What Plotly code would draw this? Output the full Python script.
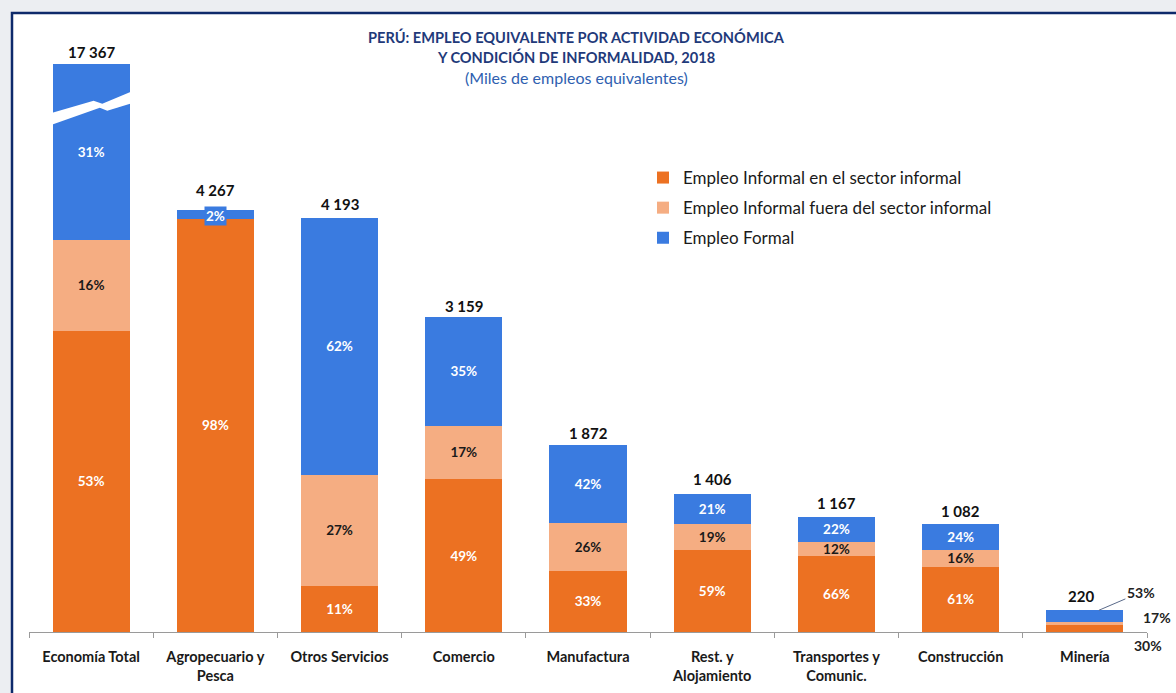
import plotly.graph_objects as go

# ---------------- data ----------------
categories = ["Economía Total", "Agropecuario y<br>Pesca", "Otros Servicios", "Comercio",
              "Manufactura", "Rest. y<br>Alojamiento", "Transportes y<br>Comunic.",
              "Construcción", "Minería"]
totals = [17367, 4267, 4193, 3159, 1872, 1406, 1167, 1082, 220]
pct_informal_sector = [53, 98, 11, 49, 33, 59, 66, 61, 30]
pct_informal_fuera = [16, 0, 27, 17, 26, 19, 12, 16, 17]
pct_formal = [31, 2, 62, 35, 42, 21, 22, 24, 53]
series_names = ["Empleo Informal en el sector informal",
                "Empleo Informal fuera del sector informal",
                "Empleo Formal"]

# first bar is drawn with a broken (compressed) scale
display_scale = [0.331, 1, 1, 1, 1, 1, 1, 1, 1]

# ---------------- style ----------------
C_ORANGE = "#EC7122"
C_PEACH = "#F5AD82"
C_BLUE = "#3A7BE0"
NAVY = "#1F3A7A"
FONT = "Lato"
Y_MAX = 6000
PLOT_TOP, PLOT_BOTTOM = 39, 632
PLOT_H = PLOT_BOTTOM - PLOT_TOP
W, H = 1176, 693


def fmt(v):
    return f"{v:,}".replace(",", " ")


def fmt_pct(p):
    return f"{p}%"


series = [pct_informal_sector, pct_informal_fuera, pct_formal]
colors = [C_ORANGE, C_PEACH, C_BLUE]
text_colors = ["white", "#1a1a1a", "white"]

fig = go.Figure()
n = len(categories)
for si, (pcts, name, col, tcol) in enumerate(zip(series, series_names, colors, text_colors)):
    ys = [totals[i] * pcts[i] / 100 * display_scale[i] for i in range(n)]
    real = [totals[i] * pcts[i] / 100 for i in range(n)]
    texts = []
    for i in range(n):
        if pcts[i] == 0 or categories[i] == "Minería" or (si == 2 and i == 1):
            texts.append("")
        else:
            texts.append(fmt_pct(pcts[i]))
    fig.add_trace(go.Bar(
        x=list(range(n)), y=ys, name=name, marker_color=col, marker_line_width=0,
        text=texts, textposition="inside", insidetextanchor="middle", textangle=0,
        textfont=dict(family=FONT, size=13.5, color=tcol, weight="bold"),
        customdata=real, legendgroup=f"g{si}",
        hovertemplate="%{customdata:,.0f}<extra>" + name + "</extra>",
    ))

annotations = []
# totals above the bars
for i in range(n):
    annotations.append(dict(x=i, y=totals[i] * display_scale[i], text=f"<b>{fmt(totals[i])}</b>",
                            showarrow=False, yanchor="bottom",
                            yshift=1 if i == 0 else (9 if i == 1 else 3),
                            xshift=-4 if categories[i] == "Minería" else 0,
                            font=dict(family=FONT, size=15, color="#111")))
# "2%" label on Agropecuario formal segment
agro = 1
annotations.append(dict(x=agro, y=totals[agro] * (pct_informal_sector[agro] + pct_formal[agro] / 2) / 100,
                        text=f"<b>{fmt_pct(pct_formal[agro])}</b>", showarrow=False,
                        bgcolor=C_BLUE, borderpad=1, yshift=-1,
                        font=dict(family=FONT, size=13.5, color="white")))
# Minería labels outside
mi = categories.index("Minería")
annotations.append(dict(x=mi, y=totals[mi], xshift=14, text=f"<b>{fmt_pct(pct_formal[mi])}</b>",
                        showarrow=True, arrowhead=0, arrowwidth=1, arrowcolor="#5a6a8a",
                        ax=42, ay=-18, font=dict(family=FONT, size=14, color="#222")))
annotations.append(dict(x=mi, y=0, xshift=72, yshift=15, text=f"<b>{fmt_pct(pct_informal_fuera[mi])}</b>",
                        showarrow=False, font=dict(family=FONT, size=14, color="#222")))
annotations.append(dict(x=mi, y=0, xshift=63, yshift=-13, text=f"<b>{fmt_pct(pct_informal_sector[mi])}</b>",
                        showarrow=False, font=dict(family=FONT, size=14, color="#222")))

# title
TX = (576 - 29) / 1118
annotations += [
    dict(xref="paper", yref="paper", x=TX, y=(PLOT_BOTTOM - 37) / PLOT_H, yanchor="middle",
         text="<b>PERÚ: EMPLEO EQUIVALENTE POR ACTIVIDAD ECONÓMICA</b>", showarrow=False,
         font=dict(family=FONT, size=14.6, color=NAVY)),
    dict(xref="paper", yref="paper", x=TX, y=(PLOT_BOTTOM - 57) / PLOT_H, yanchor="middle",
         text="<b>Y CONDICIÓN DE INFORMALIDAD, 2018</b>", showarrow=False,
         font=dict(family=FONT, size=14.6, color=NAVY)),
    dict(xref="paper", yref="paper", x=TX, y=(PLOT_BOTTOM - 77) / PLOT_H, yanchor="middle",
         text="(Miles de empleos equivalentes)", showarrow=False,
         font=dict(family=FONT, size=16, color="#2F5FB0")),
]

# break mark on the first bar (white zigzag band), offsets in px below the displayed top
top0 = totals[0] * display_scale[0]
ppu = PLOT_H / Y_MAX


def yoff(px):
    return top0 - px / ppu


band = [(-0.34, 50), (0.02, 37), (0.09, 40), (0.34, 27), (0.34, 39), (0.13, 47), (0.07, 44), (-0.34, 62)]
path = "M " + " L ".join(f"{x},{yoff(p)}" for x, p in band) + " Z"

shapes = [
    dict(type="rect", xref="paper", yref="paper", layer="below",
         x0=(12 - 29) / 1118, x1=1.2, y0=-0.3, y1=(PLOT_BOTTOM - 13) / PLOT_H,
         fillcolor="white", line=dict(color="#0E2A6B", width=2.5)),
    dict(type="path", xref="x", yref="y", path=path, fillcolor="white", line=dict(width=0)),
]

fig.update_layout(
    width=W, height=H,
    barmode="stack", bargap=0.38,
    paper_bgcolor="#ECEEF2", plot_bgcolor="rgba(0,0,0,0)",
    margin=dict(l=29, r=29, t=PLOT_TOP, b=H - PLOT_BOTTOM, autoexpand=False),
    font=dict(family=FONT),
    showlegend=True,
    legend=dict(x=(643 - 29) / 1118, y=(PLOT_BOTTOM - 160) / PLOT_H, xanchor="left", yanchor="top",
                traceorder="grouped", tracegroupgap=5, bgcolor="rgba(0,0,0,0)",
                font=dict(family=FONT, size=17, color="#1a1a1a")),
    uniformtext=dict(minsize=13.5, mode="show"),
    annotations=annotations,
    shapes=shapes,
)
fig.update_xaxes(
    type="linear", range=[-0.5, n - 0.5], tickvals=list(range(n)), ticktext=categories,
    showgrid=False, zeroline=False, showline=True, linecolor="#9a9a9a", linewidth=1,
    ticks="", ticklabelstandoff=12, automargin=False,
    tickfont=dict(family=FONT, size=14.5, color="#1a1a1a", weight="bold"),
    fixedrange=True,
)
# boundary tick marks via minor ticks
fig.update_xaxes(minor=dict(tickvals=[i - 0.5 for i in range(n + 1)], ticks="outside",
                            ticklen=5, tickcolor="#9a9a9a", showgrid=False))
fig.update_yaxes(range=[0, Y_MAX], visible=False, showgrid=False, fixedrange=True, automargin=False)

fig.write_html("out.html", config={"displayModeBar": False},
               post_script="document.body.style.margin='0';document.body.style.overflow='hidden';")
